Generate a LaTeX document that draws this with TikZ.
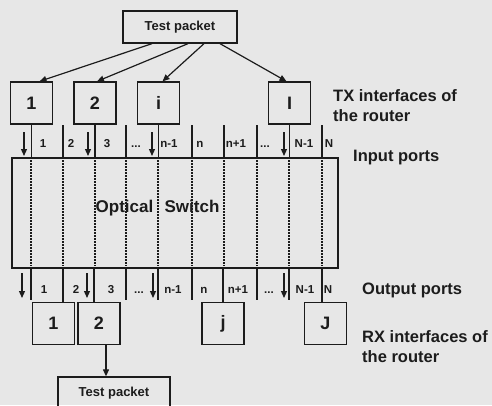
\documentclass[tikz,border=0pt]{standalone}
\usepackage{fontspec}
\setmainfont{Liberation Sans}
\usetikzlibrary{arrows.meta}
\definecolor{bg}{RGB}{231,231,231}
\definecolor{ink}{RGB}{28,28,28}
\begin{document}
\begin{tikzpicture}[x=1pt,y=-1pt,
  box/.style={draw=ink, line width=1.3pt, minimum width=42pt, minimum height=42pt, inner sep=0pt,
    font=\fontsize{18}{18}\selectfont\bfseries, text=ink},
  tpbox/.style={draw=ink, line width=1.3pt, minimum width=114pt, minimum height=32pt, inner sep=0pt,
    font=\fontsize{13}{13}\selectfont\bfseries, text=ink},
  swbox/.style={draw=ink, line width=1.3pt, minimum width=326pt, minimum height=110pt, inner sep=0pt},
  pl/.style={draw=ink, line width=1.2pt},
  dotl/.style={draw=ink, line width=1.8pt, dash pattern=on 1.5pt off 1.5pt},
  arr/.style={draw=ink, line width=1.2pt, -{Triangle[length=7pt,width=6pt]}},
  plab/.style={font=\fontsize{11.5}{12}\selectfont\bfseries, text=ink, inner sep=0pt, anchor=base},
  rlab/.style={font=\fontsize{16.5}{17}\selectfont\bfseries, text=ink, inner sep=0pt, anchor=base west},
  swlab/.style={font=\fontsize{17}{17}\selectfont\bfseries, text=ink, inner sep=0pt, anchor=base}
]
\fill[bg] (0,0) rectangle (492,405);
\useasboundingbox (0,0) rectangle (492,405);
\clip (0,0) rectangle (492,405);

% switch
\node[swbox] (sw) at (175,213) {};
\foreach \x in {31,63,95,126,158,192,224,257,289,322}
  \draw[dotl] (\x,160) -- (\x,266);
\node[swlab] (opt) at (124.5,212) {Optical};
\node[swlab] (swt) at (192,212) {Switch};

% test packet top
\node[tpbox] (tp1) at (180,27) {Test packet};

% TX boxes
\node[box] (tx1) at (31.5,103) {1};
\node[box] (tx2) at (95,103) {2};
\node[box] (txi) at (158.5,103) {i};
\node[box] (txl) at (289.5,103) {I};

\draw[arr] ([xshift=-28pt]tp1.south) -- ([xshift=8pt]tx1.north);
\draw[arr] ([xshift=8pt]tp1.south) -- ([xshift=2pt]tx2.north);
\draw[arr] ([xshift=24pt]tp1.south) -- ([xshift=4pt]txi.north);
\draw[arr] ([xshift=40pt]tp1.south) -- ([xshift=-3pt]txl.north);

% input port lines
\foreach \b in {tx1,tx2,txi,txl}
  \draw[pl] (\b.south) -- (\b.south |- sw.north);
\foreach \x in {63,126,192,224,257,322}
  \draw[pl] (\x,125) -- (\x,158);
\foreach \x in {24,88,152,284}
  \draw[arr] (\x,132) -- (\x,156);

\node[plab] at (43,147) {1};
\node[plab] at (71,147) {2};
\node[plab] at (107,147) {3};
\node[plab] at (136,147) {...};
\node[plab] at (169,147) {n-1};
\node[plab] at (200,147) {n};
\node[plab] at (236,147) {n+1};
\node[plab] at (265,147) {...};
\node[plab] at (304,147) {N-1};
\node[plab] at (329,147) {N};

% output side
\node[box] (rx1) at (53.5,323.5) {1};
\node[box] (rx2) at (99,323.5) {2};
\node[box] (rxj) at (223,323.5) {j};
\node[box] (rxJ) at (325.5,323.5) {J};

\draw[pl] ([xshift=9.5pt]rx1.north |- sw.south) -- ([xshift=9.5pt]rx1.north);
\draw[pl] ([xshift=-5pt]rx2.north |- sw.south) -- ([xshift=-5pt]rx2.north);
\draw[pl] (rxj.north |- sw.south) -- (rxj.north);
\draw[pl] ([xshift=-3.5pt]rxJ.north |- sw.south) -- ([xshift=-3.5pt]rxJ.north);
\foreach \x in {31,126,158,192,257,289}
  \draw[pl] (\x,268) -- (\x,300);
\foreach \x in {22,87,153,284}
  \draw[arr] (\x,273) -- (\x,298);

\node[plab] at (44,293) {1};
\node[plab] at (76,293) {2};
\node[plab] at (111,293) {3};
\node[plab] at (139,293) {...};
\node[plab] at (173,293) {n-1};
\node[plab] at (204,293) {n};
\node[plab] at (238,293) {n+1};
\node[plab] at (269,293) {...};
\node[plab] at (305,293) {N-1};
\node[plab] at (328,293) {N};

% test packet bottom
\node[tpbox, minimum width=112pt, minimum height=36pt] (tp2) at (114,395) {};
\node[font=\fontsize{13}{13}\selectfont\bfseries, text=ink, inner sep=0pt] (tp2t) at (114,393) {Test packet};
\draw[arr] ([xshift=7pt]rx2.south) -- ([xshift=-8pt]tp2.north);

% right labels
\node[rlab] (l1) at (333,101) {TX interfaces of};
\node[rlab] (l2) at (333,121) {the router};
\node[rlab] (l3) at (353,161) {Input ports};
\node[rlab] (l4) at (362,294) {Output ports};
\node[rlab] (l5) at (362,342) {RX interfaces of};
\node[rlab] (l6) at (362,362) {the router};
\end{tikzpicture}
\end{document}
